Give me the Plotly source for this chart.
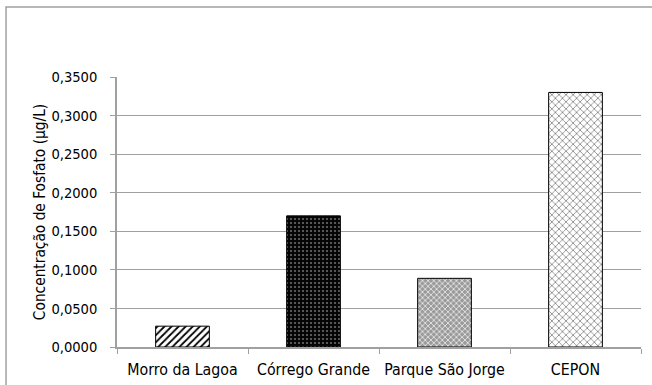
import plotly.graph_objects as go

categories = ["Morro da Lagoa", "Córrego Grande", "Parque São Jorge", "CEPON"]
values = [0.027, 0.170, 0.089, 0.330]
y_ticks = [0.0, 0.05, 0.10, 0.15, 0.20, 0.25, 0.30, 0.35]
y_title = "Concentração de Fosfato (µg/L)"

shapes = ["/", ".", "x", "x"]
fg = ["#000000", "#6a6a6a", "#f0f0f0", "#555555"]
bg = ["#ffffff", "#050505", "#9a9a9a", "#ffffff"]
psize = [5, 4, 4, 5]
solid = [0.35, 0.22, 0.35, 0.22]

FONT = "DejaVu Sans Condensed, DejaVu Sans"
GRID = "#a0a0a0"

fig = go.Figure()
for i, (c, v) in enumerate(zip(categories, values)):
    fig.add_trace(go.Bar(
        x=[c], y=[v], width=0.41,
        marker=dict(
            color=bg[i],
            line=dict(color="#000000", width=1),
            pattern=dict(shape=shapes[i], fgcolor=fg[i], bgcolor=bg[i],
                         size=psize[i], solidity=solid[i], fillmode="replace"),
        ),
    ))

# outer chart frame (extends past right/bottom edges of the view)
fig.add_shape(type="rect", xref="paper", yref="paper",
              x0=-0.2118, x1=1.2, y0=-0.3, y1=1.259,
              line=dict(color="#a0a0a0", width=1.5), layer="below")

fig.update_layout(
    width=652, height=385,
    margin=dict(l=117, r=11, t=77, b=38),
    paper_bgcolor="white", plot_bgcolor="white",
    separators=",.",
    showlegend=False,
    barmode="overlay",
    font=dict(family=FONT, size=15, color="#000000"),
)
fig.update_xaxes(
    type="category", categoryorder="array", categoryarray=categories,
    tickson="boundaries", ticks="outside", ticklen=5,
    tickcolor=GRID, showline=True, linecolor=GRID, linewidth=1.5,
    showgrid=False, ticklabelstandoff=7, automargin=False,
    tickfont=dict(family=FONT, size=15.8, color="#000"),
)
fig.update_yaxes(
    range=[0, 0.35], tickvals=y_ticks, tickformat=".4f",
    ticks="outside", ticklen=5, tickcolor=GRID,
    showline=True, linecolor=GRID, linewidth=1.5,
    showgrid=True, gridcolor=GRID, gridwidth=1.2, zeroline=False,
    ticklabelstandoff=10, automargin=False,
    tickfont=dict(family=FONT, size=14.6, color="#000"),
    title=dict(text=y_title, standoff=2, font=dict(family=FONT, size=15.3, color="#000")),
)

fig.write_html("out.html")
